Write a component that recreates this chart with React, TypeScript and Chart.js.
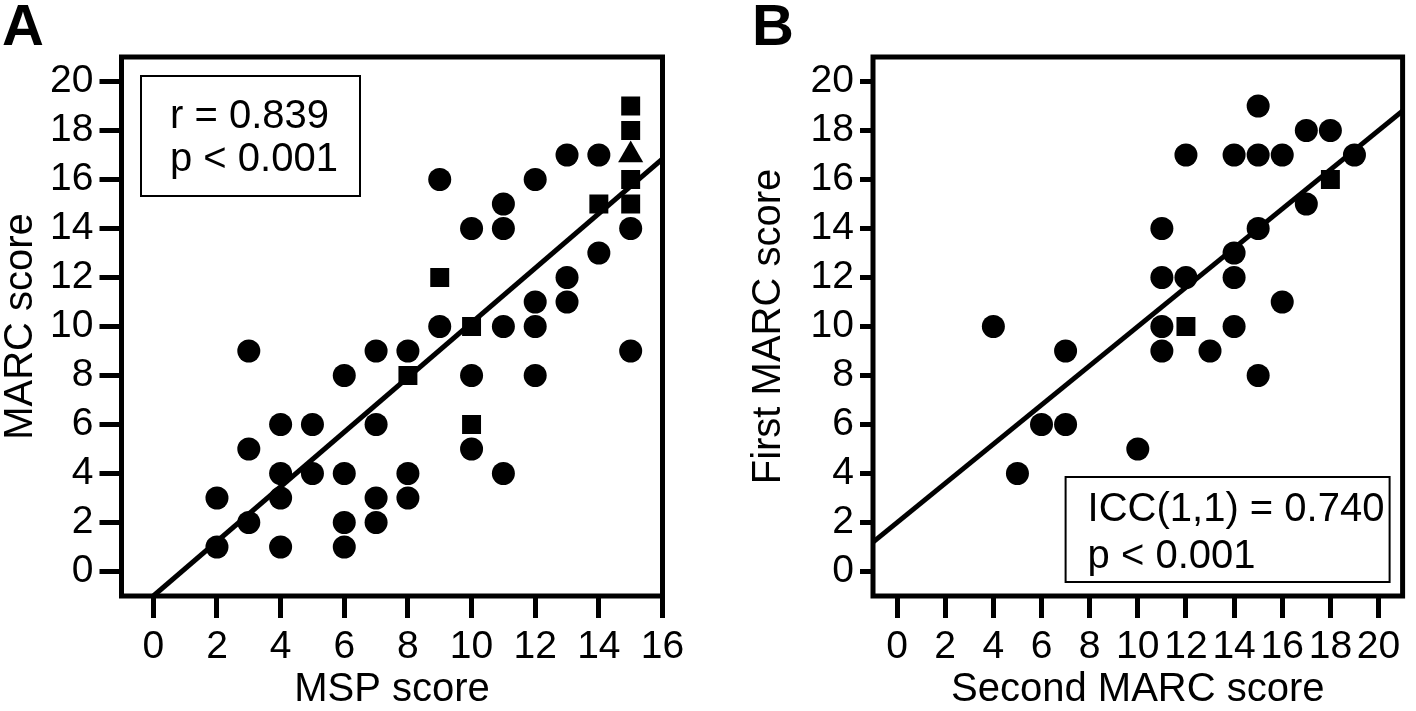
import React, { useEffect, useRef } from "react";
import { Chart, registerables } from "chart.js";

Chart.register(...registerables);

// ---------- Panel A data (MSP score vs MARC score) ----------
const A_CIRCLE_X = [2, 2, 3, 3, 3, 4, 4, 4, 4, 5, 5, 6, 6, 6, 6, 7, 7, 7, 7, 8, 8, 8, 9, 9, 10, 10, 10, 11, 11, 11, 11, 12, 12, 12, 12, 13, 13, 13, 14, 14, 15, 15];
const A_CIRCLE_Y = [3, 1, 9, 5, 2, 6, 4, 3, 1, 6, 4, 8, 4, 2, 1, 9, 6, 3, 2, 9, 4, 3, 16, 10, 14, 8, 5, 15, 14, 10, 4, 16, 11, 10, 8, 17, 12, 11, 17, 13, 14, 9];
const A_SQUARE_X = [8, 9, 10, 10, 14, 15, 15, 15, 15];
const A_SQUARE_Y = [8, 12, 10, 6, 15, 19, 18, 16, 15];
const A_TRIANGLE_X = [15];
const A_TRIANGLE_Y = [17];
const A_FIT_X = [0, 16];
const A_FIT_Y = [-1.0, 16.84];
const A_X_TICKS = [0, 2, 4, 6, 8, 10, 12, 14, 16];
const A_Y_TICKS = [0, 2, 4, 6, 8, 10, 12, 14, 16, 18, 20];
const A_STATS = ["r = 0.839", "p < 0.001"];

// ---------- Panel B data (Second vs First MARC score) ----------
const B_CIRCLE_X = [4, 5, 6, 7, 7, 10, 11, 11, 11, 11, 12, 12, 13, 14, 14, 14, 14, 15, 15, 15, 15, 16, 16, 17, 17, 18, 19];
const B_CIRCLE_Y = [10, 4, 6, 6, 9, 5, 14, 12, 10, 9, 17, 12, 9, 17, 13, 12, 10, 19, 17, 14, 8, 17, 11, 18, 15, 18, 17];
const B_SQUARE_X = [12, 18];
const B_SQUARE_Y = [10, 16];
const B_FIT_X = [-1, 21];
const B_FIT_Y = [1.2, 18.8];
const B_X_TICKS = [0, 2, 4, 6, 8, 10, 12, 14, 16, 18, 20];
const B_Y_TICKS = [0, 2, 4, 6, 8, 10, 12, 14, 16, 18, 20];
const B_STATS = ["ICC(1,1) = 0.740", "p < 0.001"];

const FONT = "'Liberation Sans', Arial, sans-serif";

function pts(xs: number[], ys: number[]) {
  return xs.map((x, i) => ({ x, y: ys[i] }));
}

function makeScale(
  min: number,
  max: number,
  ticks: number[],
  title: string,
  isY: boolean,
  fitSize: number,
  tickLength: number
) {
  return {
    type: "linear",
    min,
    max,
    afterBuildTicks: (s: any) => {
      s.ticks = ticks.map((v) => ({ value: v }));
    },
    afterFit: (s: any) => {
      if (isY) s.width = fitSize;
      else s.height = fitSize;
    },
    grid: {
      display: true,
      drawOnChartArea: false,
      drawTicks: true,
      tickLength,
      tickWidth: 5,
      tickColor: "#000",
      color: "#000",
      lineWidth: 5,
    },
    border: { display: false },
    ticks: {
      padding: 6,
      color: "#000",
      autoSkip: false,
      maxRotation: 0,
      font: { size: 39, family: FONT },
    },
    title: {
      display: true,
      text: title,
      color: "#000",
      font: { size: 40, family: FONT, lineHeight: 1.05 },
      padding: { top: 0, bottom: 0 },
    },
  };
}

type BoxSpec = {
  letter: string;
  letterX: number;
  lines: string[];
  box: (a: any) => { left: number; top: number; w: number; h: number };
  textDx: number;
  lineDy: number[];
};

function framePlugin(spec: BoxSpec) {
  return {
    id: "frame" + spec.letter,
    afterDraw(chart: any) {
      const { ctx, chartArea: a } = chart;
      ctx.save();
      ctx.strokeStyle = "#000";
      ctx.lineWidth = 5;
      ctx.strokeRect(a.left, a.top, a.right - a.left, a.bottom - a.top);

      ctx.fillStyle = "#000";
      ctx.font = `bold 58px ${FONT}`;
      ctx.textAlign = "left";
      ctx.textBaseline = "alphabetic";
      ctx.fillText(spec.letter, spec.letterX, 45);

      const b = spec.box(a);
      ctx.lineWidth = 2;
      ctx.strokeRect(b.left, b.top, b.w, b.h);
      ctx.font = `40px ${FONT}`;
      ctx.textBaseline = "middle";
      spec.lines.forEach((t, i) => {
        ctx.fillText(t, b.left + spec.textDx, b.top + spec.lineDy[i]);
      });
      ctx.restore();
    },
  };
}

function pointDs(data: any[], style: string, radius: number) {
  return {
    type: "scatter",
    data,
    pointStyle: style,
    pointRadius: radius,
    pointHoverRadius: radius,
    backgroundColor: "#000",
    borderColor: "#000",
    borderWidth: 0,
    showLine: false,
  };
}

function lineDs(xs: number[], ys: number[]) {
  return {
    type: "scatter",
    data: pts(xs, ys),
    showLine: true,
    pointRadius: 0,
    borderColor: "#000",
    borderWidth: 5,
    backgroundColor: "#000",
  };
}

function Panel({ config }: { config: any }) {
  const ref = useRef<HTMLCanvasElement | null>(null);
  useEffect(() => {
    if (!ref.current) return;
    const chart = new Chart(ref.current, config);
    return () => chart.destroy();
  }, []);
  return <canvas ref={ref} width={708} height={711} style={{ display: "block", width: 708, height: 711 }} />;
}

const commonOptions = (padding: any) => ({
  responsive: false,
  animation: false,
  devicePixelRatio: 1,
  layout: { padding },
  plugins: { legend: { display: false }, tooltip: { enabled: false }, title: { display: false } },
  events: [],
});

export default function App() {
  const configA = {
    type: "scatter",
    data: {
      datasets: [
        lineDs(A_FIT_X, A_FIT_Y),
        pointDs(pts(A_CIRCLE_X, A_CIRCLE_Y), "circle", 11.5),
        pointDs(pts(A_SQUARE_X, A_SQUARE_Y), "rect", 13.4),
        pointDs(pts(A_TRIANGLE_X, A_TRIANGLE_Y), "triangle", 14.5),
      ],
    },
    options: {
      ...commonOptions({ left: 0, top: 57, right: 45.5, bottom: 0 }),
      scales: {
        x: makeScale(-1, 16, A_X_TICKS, "MSP score", false, 115, 22),
        y: makeScale(-1, 21, A_Y_TICKS, "MARC score", true, 121.5, 22),
      },
    },
    plugins: [
      framePlugin({
        letter: "A",
        letterX: 2,
        lines: A_STATS,
        box: (a: any) => ({ left: a.left + 19.5, top: a.top + 19, w: 219, h: 120 }),
        textDx: 29,
        lineDy: [41, 84],
      }),
    ],
  };

  const configB = {
    type: "scatter",
    data: {
      datasets: [
        lineDs(B_FIT_X, B_FIT_Y),
        pointDs(pts(B_CIRCLE_X, B_CIRCLE_Y), "circle", 11.5),
        pointDs(pts(B_SQUARE_X, B_SQUARE_Y), "rect", 13.4),
      ],
    },
    options: {
      ...commonOptions({ left: 40, top: 57, right: 3, bottom: 0 }),
      scales: {
        x: makeScale(-1, 21, B_X_TICKS, "Second MARC score", false, 115, 22),
        y: makeScale(-1, 21, B_Y_TICKS, "First MARC score", true, 125, 13),
      },
    },
    plugins: [
      framePlugin({
        letter: "B",
        letterX: 44,
        lines: B_STATS,
        box: (a: any) => ({ left: a.right - 13 - 324, top: a.bottom - 14 - 105, w: 324, h: 105 }),
        textDx: 22,
        lineDy: [33, 80],
      }),
    ],
  };

  return (
    <div
      style={{
        position: "fixed",
        left: 0,
        top: 0,
        width: 1416,
        height: 711,
        background: "#fff",
        display: "flex",
        flexDirection: "row",
      }}
    >
      <Panel config={configA} />
      <Panel config={configB} />
    </div>
  );
}
